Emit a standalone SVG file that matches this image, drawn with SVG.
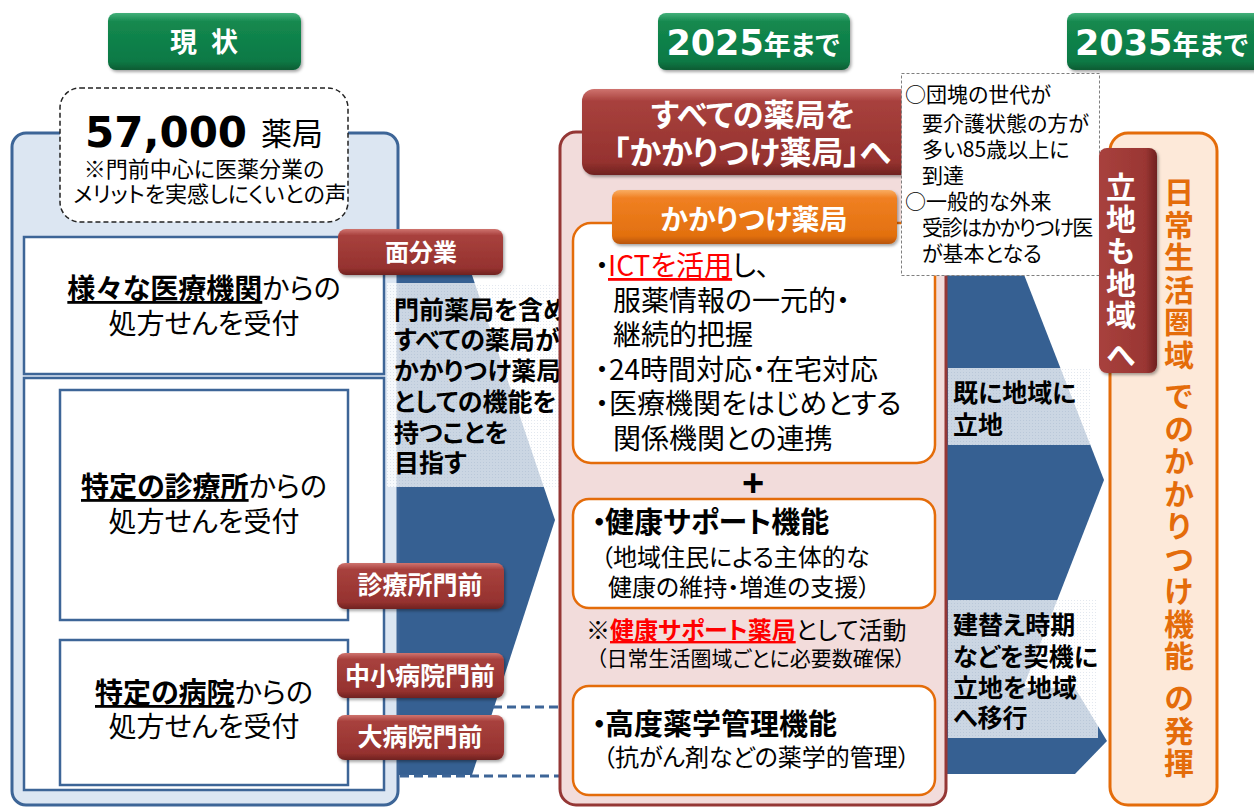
<svg xmlns="http://www.w3.org/2000/svg" width="1254" height="807" viewBox="0 0 1254 807">
<defs>
<style>
.jp{font-family:"Noto Sans CJK JP","Noto Sans",sans-serif;font-feature-settings:"palt" 1;fill:#000}
.num{font-family:"DejaVu Sans",sans-serif;font-weight:bold}
.b{font-weight:700}
.w{fill:#fff}
.c{text-anchor:middle}
.v{writing-mode:vertical-rl;font-feature-settings:normal}
.box{fill:#fff;stroke:#3d6597;stroke-width:2.5}
.obox{fill:#fff;stroke:#e46c0a;stroke-width:2.5}
.chev{fill:#366092}
.dash{stroke:#3d6597;stroke-width:3;stroke-dasharray:9 5;fill:none}
.red{fill:#ff0000}
.or{fill:#e46c0a}
</style>
<linearGradient id="gGreen" x1="0" y1="0" x2="0" y2="1">
<stop offset="0" stop-color="#43b07a"/><stop offset="0.15" stop-color="#14894f"/><stop offset="0.85" stop-color="#0b7945"/><stop offset="1" stop-color="#075c33"/>
</linearGradient>
<linearGradient id="gRed" x1="0" y1="0" x2="0" y2="1">
<stop offset="0" stop-color="#cf736f"/><stop offset="0.14" stop-color="#a8413d"/><stop offset="0.85" stop-color="#95322f"/><stop offset="1" stop-color="#6f2220"/>
</linearGradient>
<linearGradient id="gRedH" x1="0" y1="0" x2="1" y2="0">
<stop offset="0" stop-color="#a8413d"/><stop offset="0.8" stop-color="#9a3633"/><stop offset="1" stop-color="#6f2220"/>
</linearGradient>
<linearGradient id="gOrange" x1="0" y1="0" x2="0" y2="1">
<stop offset="0" stop-color="#f9ad62"/><stop offset="0.15" stop-color="#f08022"/><stop offset="0.85" stop-color="#e2700f"/><stop offset="1" stop-color="#b85508"/>
</linearGradient>
<pattern id="grid" width="3" height="3" patternUnits="userSpaceOnUse">
<rect width="3" height="3" fill="#ffffff" fill-opacity="0.74"/>
<rect width="1" height="1" fill="#7f96b6" fill-opacity="0.22"/>
</pattern>
<filter id="sh" x="-10%" y="-10%" width="125%" height="140%">
<feDropShadow dx="1.5" dy="2" stdDeviation="1.5" flood-color="#000" flood-opacity="0.35"/>
</filter>
</defs>

<rect width="1254" height="807" fill="#fff"/>

<g id="connectors">
<polygon class="chev" points="392,275 472,275 555,520 472,775 392,775"/>
<polygon class="chev" points="940,272 1023,272 1104,480 1023,688 940,688"/>
<polygon class="chev" points="940,688 1075,688 1107,741 1075,774 940,774"/>
<line class="dash" x1="493" y1="707" x2="560" y2="707"/>
<line class="dash" x1="400" y1="776" x2="560" y2="776"/>
</g>

<g id="header-genjo">
<rect x="108" y="13" width="193" height="57" rx="8" fill="url(#gGreen)" filter="url(#sh)"/>
<text class="jp b w" y="52" font-size="27"><tspan x="170">現</tspan><tspan x="211">状</tspan></text>
</g>
<g id="header-2025">
<rect x="658" y="13" width="192" height="57" rx="8" fill="url(#gGreen)" filter="url(#sh)"/>
<text class="c w" x="753" y="55"><tspan class="num" font-size="35">2025</tspan><tspan class="jp b w" font-size="27">年まで</tspan></text>
</g>
<g id="header-2035">
<rect x="1067" y="13" width="200" height="57" rx="8" fill="url(#gGreen)" filter="url(#sh)"/>
<text class="w" x="1075" y="55"><tspan class="num" font-size="35">2035</tspan><tspan class="jp b w" font-size="27">年まで</tspan></text>
</g>

<g id="panel-current">
<rect x="12" y="133" width="386" height="672" rx="14" fill="#dce6f2" stroke="#3d6597" stroke-width="3"/>
<rect x="24" y="237" width="360" height="137" class="box"/>
<rect x="24" y="378" width="360" height="412" class="box"/>
<rect x="60" y="390" width="288" height="230" class="box"/>
<rect x="60" y="640" width="288" height="145" class="box"/>
<text class="jp c" x="204" y="299" font-size="28"><tspan class="b" text-decoration="underline">様々な医療機関</tspan>からの</text>
<text class="jp c" x="204" y="334" font-size="28">処方せんを受付</text>
<text class="jp c" x="204" y="497" font-size="28"><tspan class="b" text-decoration="underline">特定の診療所</tspan>からの</text>
<text class="jp c" x="204" y="532" font-size="28">処方せんを受付</text>
<text class="jp c" x="204" y="703" font-size="28"><tspan class="b" text-decoration="underline">特定の病院</tspan>からの</text>
<text class="jp c" x="204" y="737" font-size="28">処方せんを受付</text>
</g>

<g id="count-box">
<rect x="60" y="88" width="288" height="134" rx="20" fill="#fff" stroke="#222" stroke-width="1.5" stroke-dasharray="5 3"/>
<text class="num" x="85" y="147" font-size="42" fill="#000">57,000</text>
<text class="jp" x="261" y="145" font-size="31">薬局</text>
<text class="jp c" x="204" y="177" font-size="22">※門前中心に医薬分業の</text>
<text class="jp c" x="210" y="202" font-size="22">メリットを実感しにくいとの声</text>
</g>

<g id="goal-text">
<rect x="387" y="283" width="185" height="204" fill="url(#grid)"/>
<text class="jp b" font-size="25"><tspan x="394" y="319">門前薬局を含め</tspan><tspan x="394" y="349">すべての薬局が</tspan><tspan x="394" y="380">かかりつけ薬局</tspan><tspan x="394" y="411">としての機能を</tspan><tspan x="394" y="442">持つことを</tspan><tspan x="394" y="472">目指す</tspan></text>
</g>

<g id="label-menbungyo">
<rect x="338" y="229" width="165" height="46" rx="8" fill="url(#gRed)" filter="url(#sh)"/>
<text class="jp b w c" x="421" y="261" font-size="24">面分業</text>
</g>
<g id="label-clinic">
<rect x="337" y="563" width="167" height="46" rx="8" fill="url(#gRed)" filter="url(#sh)"/>
<text class="jp b w c" x="420" y="594" font-size="25">診療所門前</text>
</g>
<g id="label-midhospital">
<rect x="337" y="653" width="167" height="45" rx="8" fill="url(#gRed)" filter="url(#sh)"/>
<text class="jp b w c" x="420" y="685" font-size="25">中小病院門前</text>
</g>
<g id="label-bighospital">
<rect x="337" y="715" width="167" height="45" rx="8" fill="url(#gRed)" filter="url(#sh)"/>
<text class="jp b w c" x="420" y="746" font-size="25">大病院門前</text>
</g>

<g id="panel-2025">
<rect x="560" y="132" width="386" height="673" rx="16" fill="#f2dcdb" stroke="#953735" stroke-width="3"/>
</g>
<g id="header-all-pharmacies">
<rect x="582" y="89" width="342" height="86" rx="12" fill="url(#gRed)" filter="url(#sh)"/>
<text class="jp b w c" x="753" y="126" font-size="31">すべての薬局を</text>
<text class="jp b w c" x="752" y="164" font-size="32">「かかりつけ薬局」へ</text>
</g>

<g id="box-kakaritsuke">
<rect x="573" y="223" width="362" height="240" rx="18" class="obox"/>
<text class="jp" y="276" font-size="28"><tspan x="595">・</tspan><tspan x="608" class="red" text-decoration="underline">ICTを活用</tspan><tspan>し、</tspan></text>
<text class="jp" x="613" y="311" font-size="28">服薬情報の一元的・</text>
<text class="jp" x="613" y="345" font-size="28">継続的把握</text>
<text class="jp" y="380" font-size="28"><tspan x="595">・</tspan><tspan x="609">24時間対応・在宅対応</tspan></text>
<text class="jp" y="414" font-size="28"><tspan x="595">・</tspan><tspan x="609">医療機関をはじめとする</tspan></text>
<text class="jp" x="613" y="449" font-size="28">関係機関との連携</text>
</g>
<g id="label-kakaritsuke">
<rect x="612" y="190" width="285" height="54" rx="8" fill="url(#gOrange)" filter="url(#sh)"/>
<text class="jp b w c" x="754" y="230" font-size="28">かかりつけ薬局</text>
</g>

<text x="753" y="496" font-family="Liberation Sans, sans-serif" font-weight="bold" font-size="38" text-anchor="middle" fill="#000">+</text>

<g id="box-health-support">
<rect x="573" y="499" width="362" height="109" rx="16" class="obox"/>
<text class="jp b" y="533" font-size="29"><tspan x="592">・</tspan><tspan x="605">健康サポート機能</tspan></text>
<text class="jp" x="601" y="566" font-size="24">（地域住民による主体的な</text>
<text class="jp" x="608" y="596" font-size="24">健康の維持・増進の支援）</text>
</g>
<g id="note-health-support">
<text class="jp" y="639" font-size="24"><tspan x="586">※</tspan><tspan x="610" class="red b" text-decoration="underline">健康サポート薬局</tspan><tspan>として活動</tspan></text>
<text class="jp" x="596" y="666" font-size="21">（日常生活圏域ごとに必要数確保）</text>
</g>
<g id="box-advanced">
<rect x="573" y="686" width="362" height="109" rx="16" class="obox"/>
<text class="jp b" y="735" font-size="29"><tspan x="592">・</tspan><tspan x="605">高度薬学管理機能</tspan></text>
<text class="jp" x="603" y="766" font-size="24">（抗がん剤などの薬学的管理）</text>
</g>

<g id="right-texts">
<rect x="948" y="368" width="142" height="77" fill="url(#grid)"/>
<text class="jp b" font-size="25"><tspan x="953" y="402">既に地域に</tspan><tspan x="953" y="434">立地</tspan></text>
<rect x="948" y="600" width="150" height="138" fill="url(#grid)"/>
<text class="jp b" font-size="25"><tspan x="953" y="634">建替え時期</tspan><tspan x="953" y="666">などを契機に</tspan><tspan x="953" y="697">立地を地域</tspan><tspan x="953" y="727">へ移行</tspan></text>
</g>

<g id="panel-2035">
<rect x="1110" y="133" width="107" height="672" rx="18" fill="#fde9d9" stroke="#e46c0a" stroke-width="3"/>
<text class="jp b v or" x="1179" y="177" font-size="30" letter-spacing="2.5">日常生活圏域</text>
<text class="jp b v or" x="1179" y="381" font-size="30" letter-spacing="2.5">でのかかりつけ機能</text>
<text class="jp b v or" x="1179" y="683" font-size="30" letter-spacing="2.5">の発揮</text>
</g>

<g id="note-box">
<rect x="901.5" y="73.5" width="198" height="202" fill="#fff" stroke="#7f7f7f" stroke-width="1" stroke-dasharray="3 2"/>
<text class="jp" font-size="21"><tspan x="905" y="102">○団塊の世代が</tspan><tspan x="922" y="131">要介護状態の方が</tspan><tspan x="922" y="157">多い85歳以上に</tspan><tspan x="922" y="183">到達</tspan><tspan x="905" y="209">○一般的な外来</tspan><tspan x="922" y="235" letter-spacing="-1.4">受診はかかりつけ医</tspan><tspan x="922" y="261">が基本となる</tspan></text>
</g>

<g id="label-region">
<rect x="1099" y="148" width="58" height="225" rx="8" fill="url(#gRedH)" filter="url(#sh)"/>
<text class="jp b w v" x="1121" y="172" font-size="30" letter-spacing="2">立地も地域</text>
<text class="jp b w v" x="1121" y="340" font-size="30">へ</text>
</g>
</svg>
